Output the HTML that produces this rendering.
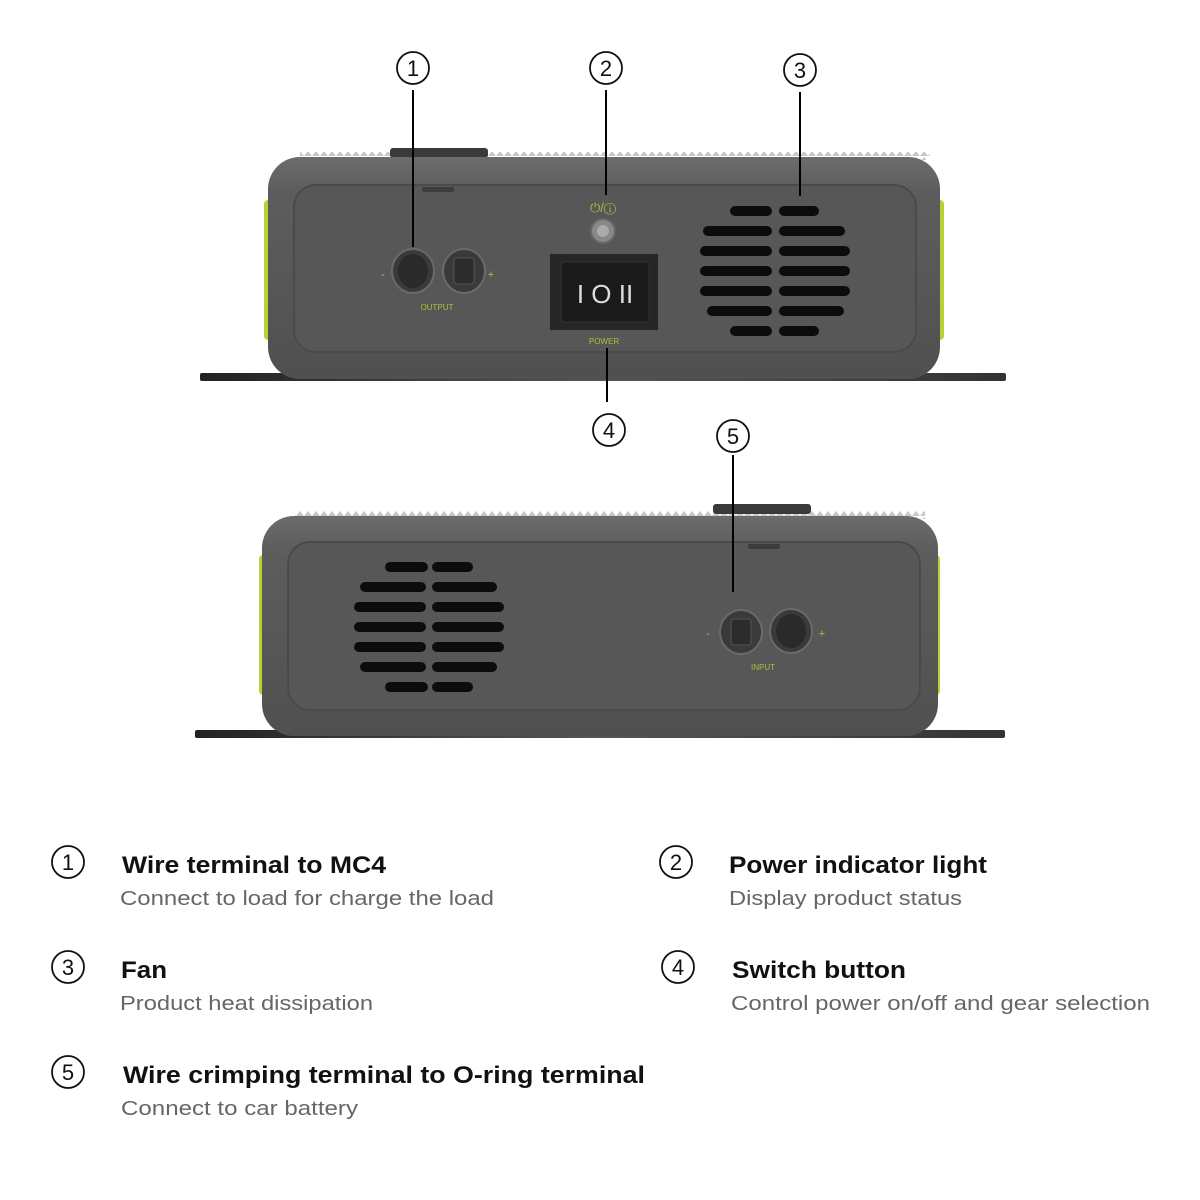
<!DOCTYPE html>
<html><head><meta charset="utf-8"><style>
html,body{margin:0;padding:0;background:#fff;width:1200px;height:1200px;overflow:hidden}
svg{display:block}
.t{font-family:"Liberation Sans",sans-serif;font-weight:bold;font-size:24px;fill:#111}
.s{font-family:"Liberation Sans",sans-serif;font-size:20px;fill:#666}
.n{font-family:"Liberation Sans",sans-serif;font-size:22px;fill:#111;text-anchor:middle}
.g{font-family:"Liberation Sans",sans-serif;font-size:8px;fill:#a8c23a;text-anchor:middle}
</style></head><body>
<svg width="1200" height="1200" viewBox="0 0 1200 1200" xmlns="http://www.w3.org/2000/svg">
<defs>
<linearGradient id="body" x1="0" y1="0" x2="0" y2="1"><stop offset="0" stop-color="#6c6c6c"/><stop offset="0.15" stop-color="#5d5d5d"/><stop offset="1" stop-color="#505050"/></linearGradient>
<linearGradient id="plate" x1="0" y1="0" x2="1" y2="0"><stop offset="0" stop-color="#222"/><stop offset="0.5" stop-color="#555"/><stop offset="1" stop-color="#333"/></linearGradient>
<pattern id="ridge" width="8" height="6" patternUnits="userSpaceOnUse"><path d="M0 6 L4 1 L8 6 Z" fill="#c8c8c8"/></pattern>
</defs>

<!-- Device 1 -->
<rect x="200" y="373" width="806" height="8" rx="2" fill="url(#plate)"/>
<rect x="300" y="152" width="630" height="8" fill="url(#ridge)"/>
<rect x="390" y="148" width="98" height="10" rx="3" fill="#3a3a3a"/>
<rect x="264" y="200" width="10" height="140" rx="4" fill="#b5d334"/>
<rect x="934" y="200" width="10" height="140" rx="4" fill="#b5d334"/>
<rect x="268" y="157" width="672" height="222" rx="32" fill="url(#body)"/>
<rect x="294" y="185" width="622" height="167" rx="22" fill="#575757" stroke="#4a4a4a" stroke-width="2"/>
<rect x="422" y="187" width="32" height="5" rx="2" fill="#3d3d3d"/>
<ellipse cx="413" cy="271" rx="21" ry="22" fill="#3a3a3a" stroke="#6a6a6a" stroke-width="2"/>
<ellipse cx="413" cy="271" rx="15" ry="17" fill="#2a2a2a"/>
<ellipse cx="464" cy="271" rx="21" ry="22" fill="#3a3a3a" stroke="#6a6a6a" stroke-width="2"/>
<rect x="454" y="258" width="20" height="26" rx="3" fill="#2c2c2c" stroke="#555"/>
<text x="383" y="278" class="g" style="font-size:11px">-</text>
<text x="491" y="278" class="g" style="font-size:11px">+</text>
<text x="437" y="310" class="g">OUTPUT</text>
<rect x="550" y="254" width="108" height="76" fill="#262626"/>
<rect x="561" y="262" width="88" height="60" rx="3" fill="#1a1a1a" stroke="#333"/>
<text x="605" y="303" style="font-family:'Liberation Sans',sans-serif;font-size:26px;fill:#ddd" text-anchor="middle">I O II</text>
<text x="604" y="344" class="g">POWER</text>
<circle cx="603" cy="231" r="12" fill="#888" stroke="#666" stroke-width="2"/>
<circle cx="603" cy="231" r="6" fill="#aaa"/>
<text x="603" y="212" class="g" style="font-size:13px">⏻/ⓘ</text>
<g fill="#0c0c0c">
<rect x="730" y="206" width="42" height="10" rx="5"/><rect x="779" y="206" width="40" height="10" rx="5"/>
<rect x="703" y="226" width="69" height="10" rx="5"/><rect x="779" y="226" width="66" height="10" rx="5"/>
<rect x="700" y="246" width="72" height="10" rx="5"/><rect x="779" y="246" width="71" height="10" rx="5"/>
<rect x="700" y="266" width="72" height="10" rx="5"/><rect x="779" y="266" width="71" height="10" rx="5"/>
<rect x="700" y="286" width="72" height="10" rx="5"/><rect x="779" y="286" width="71" height="10" rx="5"/>
<rect x="707" y="306" width="65" height="10" rx="5"/><rect x="779" y="306" width="65" height="10" rx="5"/>
<rect x="730" y="326" width="42" height="10" rx="5"/><rect x="779" y="326" width="40" height="10" rx="5"/>
</g>

<!-- Device 2 -->
<rect x="195" y="730" width="810" height="8" rx="2" fill="url(#plate)"/>
<rect x="295" y="511" width="630" height="8" fill="url(#ridge)"/>
<rect x="713" y="504" width="98" height="10" rx="3" fill="#3a3a3a"/>
<rect x="259" y="555" width="10" height="140" rx="4" fill="#b5d334"/>
<rect x="930" y="555" width="10" height="140" rx="4" fill="#b5d334"/>
<rect x="262" y="516" width="676" height="220" rx="32" fill="url(#body)"/>
<rect x="288" y="542" width="632" height="168" rx="22" fill="#575757" stroke="#4a4a4a" stroke-width="2"/>
<rect x="748" y="544" width="32" height="5" rx="2" fill="#3d3d3d"/>
<g fill="#0c0c0c">
<rect x="385" y="562" width="43" height="10" rx="5"/><rect x="432" y="562" width="41" height="10" rx="5"/>
<rect x="360" y="582" width="66" height="10" rx="5"/><rect x="432" y="582" width="65" height="10" rx="5"/>
<rect x="354" y="602" width="72" height="10" rx="5"/><rect x="432" y="602" width="72" height="10" rx="5"/>
<rect x="354" y="622" width="72" height="10" rx="5"/><rect x="432" y="622" width="72" height="10" rx="5"/>
<rect x="354" y="642" width="72" height="10" rx="5"/><rect x="432" y="642" width="72" height="10" rx="5"/>
<rect x="360" y="662" width="66" height="10" rx="5"/><rect x="432" y="662" width="65" height="10" rx="5"/>
<rect x="385" y="682" width="43" height="10" rx="5"/><rect x="432" y="682" width="41" height="10" rx="5"/>
</g>
<ellipse cx="741" cy="632" rx="21" ry="22" fill="#3a3a3a" stroke="#6a6a6a" stroke-width="2"/>
<rect x="731" y="619" width="20" height="26" rx="3" fill="#2c2c2c" stroke="#555"/>
<ellipse cx="791" cy="631" rx="21" ry="22" fill="#3a3a3a" stroke="#6a6a6a" stroke-width="2"/>
<ellipse cx="791" cy="631" rx="15" ry="17" fill="#2a2a2a"/>
<text x="708" y="637" class="g" style="font-size:11px">-</text>
<text x="822" y="637" class="g" style="font-size:11px">+</text>
<text x="763" y="670" class="g">INPUT</text>

<!-- callouts -->
<g stroke="#000" stroke-width="2" fill="none">
<line x1="413" y1="90" x2="413" y2="247"/>
<line x1="606" y1="90" x2="606" y2="195"/>
<line x1="800" y1="92" x2="800" y2="196"/>
<line x1="607" y1="348" x2="607" y2="402"/>
<line x1="733" y1="455" x2="733" y2="592"/>
</g>
<g fill="none" stroke="#111" stroke-width="1.8">
<circle cx="413" cy="68" r="16"/><circle cx="606" cy="68" r="16"/><circle cx="800" cy="70" r="16"/>
<circle cx="609" cy="430" r="16"/><circle cx="733" cy="436" r="16"/>
<circle cx="68" cy="862" r="16"/><circle cx="676" cy="862" r="16"/>
<circle cx="68" cy="967" r="16"/><circle cx="678" cy="967" r="16"/><circle cx="68" cy="1072" r="16"/>
</g>
<text class="n" x="413" y="76">1</text><text class="n" x="606" y="76">2</text><text class="n" x="800" y="78">3</text>
<text class="n" x="609" y="438">4</text><text class="n" x="733" y="444">5</text>
<text class="n" x="68" y="870">1</text><text class="n" x="676" y="870">2</text>
<text class="n" x="68" y="975">3</text><text class="n" x="678" y="975">4</text><text class="n" x="68" y="1080">5</text>

<text class="t" x="122" y="873" textLength="264" lengthAdjust="spacingAndGlyphs">Wire terminal to MC4</text>
<text class="s" x="120" y="905" textLength="374" lengthAdjust="spacingAndGlyphs">Connect to load for charge the load</text>
<text class="t" x="729" y="873" textLength="258" lengthAdjust="spacingAndGlyphs">Power indicator light</text>
<text class="s" x="729" y="905" textLength="233" lengthAdjust="spacingAndGlyphs">Display product status</text>
<text class="t" x="121" y="978" textLength="46" lengthAdjust="spacingAndGlyphs">Fan</text>
<text class="s" x="120" y="1010" textLength="253" lengthAdjust="spacingAndGlyphs">Product heat dissipation</text>
<text class="t" x="732" y="978" textLength="174" lengthAdjust="spacingAndGlyphs">Switch button</text>
<text class="s" x="731" y="1010" textLength="419" lengthAdjust="spacingAndGlyphs">Control power on/off and gear selection</text>
<text class="t" x="123" y="1083" textLength="522" lengthAdjust="spacingAndGlyphs">Wire crimping terminal to O-ring terminal</text>
<text class="s" x="121" y="1115" textLength="237" lengthAdjust="spacingAndGlyphs">Connect to car battery</text>
</svg>
</body></html>
